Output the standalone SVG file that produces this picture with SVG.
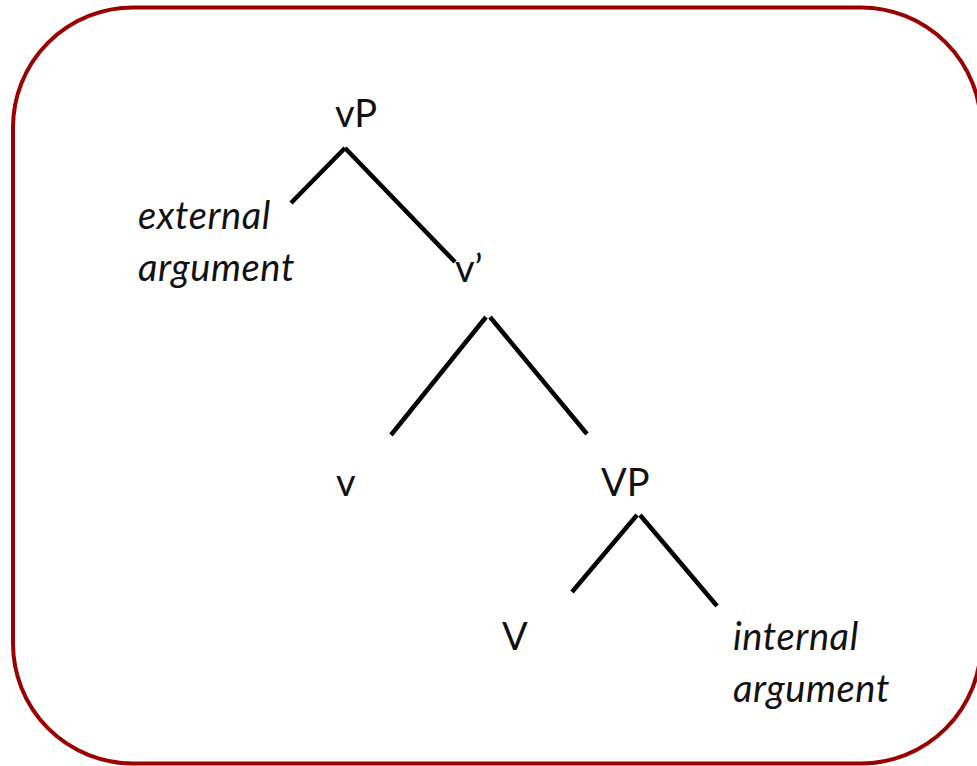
<svg xmlns="http://www.w3.org/2000/svg" width="977" height="766" viewBox="0 0 977 766">
<style>
.lbl{font-family:Lato,"Open Sans","DejaVu Sans",sans-serif;font-size:38px;fill:#111}
.it{font-style:italic;letter-spacing:0.6px}
.edge{stroke:#000;stroke-width:4.5;stroke-linecap:butt;fill:none}
</style>
<rect x="13" y="7.5" width="968" height="756" rx="120" ry="120" fill="#fff" stroke="#990000" stroke-width="4"/>
<g id="connectors">
<line class="edge" x1="345" y1="148" x2="291" y2="203"/>
<line class="edge" x1="345" y1="148" x2="455" y2="262"/>
<line class="edge" x1="486" y1="317" x2="391" y2="435"/>
<line class="edge" x1="490" y1="317" x2="587" y2="434"/>
<line class="edge" x1="637" y1="515" x2="572" y2="592"/>
<line class="edge" x1="640" y1="515" x2="717" y2="606"/>
</g>
<g id="vP"><text class="lbl" x="335" y="127">vP</text></g>
<g id="ext"><text class="lbl it" x="138" y="229">external</text><text class="lbl it" x="138" y="281">argument</text></g>
<g id="vbar"><text class="lbl" x="455" y="282">v’</text></g>
<g id="v"><text class="lbl" x="336" y="496">v</text></g>
<g id="VP"><text class="lbl" x="601" y="496">VP</text></g>
<g id="V"><text class="lbl" x="502" y="650">V</text></g>
<g id="int"><text class="lbl it" x="733" y="650">internal</text><text class="lbl it" x="733" y="702">argument</text></g>
</svg>
